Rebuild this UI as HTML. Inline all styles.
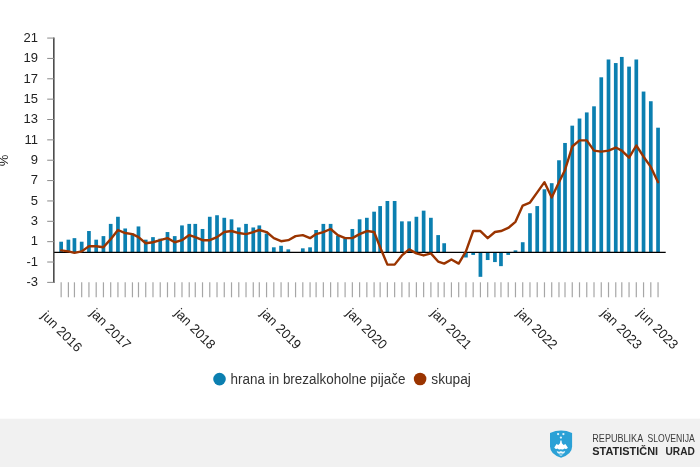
<!DOCTYPE html>
<html lang="sl"><head><meta charset="utf-8"><title>Cene hrane</title>
<style>html,body{margin:0;padding:0;background:#fff;width:700px;height:467px;overflow:hidden}body{position:relative;font-family:"Liberation Sans",Arial,sans-serif}</style></head>
<body>
<svg width="700" height="467" viewBox="0 0 700 467" style="position:absolute;left:0;top:0">
<rect x="0" y="418.7" width="700" height="48.3" fill="#f1f1f1"/>
<g fill="#0b7fb0">
<rect x="59.30" y="241.71" width="3.70" height="10.69"/>
<rect x="66.55" y="239.68" width="3.70" height="12.72"/>
<rect x="72.59" y="238.15" width="3.70" height="14.25"/>
<rect x="79.84" y="241.71" width="3.70" height="10.69"/>
<rect x="87.09" y="231.02" width="3.70" height="21.38"/>
<rect x="94.34" y="239.68" width="3.70" height="12.72"/>
<rect x="101.59" y="236.11" width="3.70" height="16.29"/>
<rect x="108.84" y="223.90" width="3.70" height="28.50"/>
<rect x="116.09" y="216.77" width="3.70" height="35.63"/>
<rect x="123.34" y="228.48" width="3.70" height="23.92"/>
<rect x="130.59" y="233.57" width="3.70" height="18.83"/>
<rect x="136.63" y="226.44" width="3.70" height="25.96"/>
<rect x="143.88" y="239.68" width="3.70" height="12.72"/>
<rect x="151.13" y="237.13" width="3.70" height="15.27"/>
<rect x="158.38" y="238.66" width="3.70" height="13.74"/>
<rect x="165.63" y="232.04" width="3.70" height="20.36"/>
<rect x="172.88" y="236.11" width="3.70" height="16.29"/>
<rect x="180.13" y="225.42" width="3.70" height="26.98"/>
<rect x="187.38" y="223.90" width="3.70" height="28.50"/>
<rect x="193.42" y="223.90" width="3.70" height="28.50"/>
<rect x="200.67" y="228.99" width="3.70" height="23.41"/>
<rect x="207.92" y="216.77" width="3.70" height="35.63"/>
<rect x="215.17" y="215.24" width="3.70" height="37.16"/>
<rect x="222.42" y="217.79" width="3.70" height="34.61"/>
<rect x="229.67" y="219.31" width="3.70" height="33.09"/>
<rect x="236.92" y="227.46" width="3.70" height="24.94"/>
<rect x="244.17" y="223.90" width="3.70" height="28.50"/>
<rect x="251.42" y="227.46" width="3.70" height="24.94"/>
<rect x="257.46" y="225.42" width="3.70" height="26.98"/>
<rect x="264.71" y="233.57" width="3.70" height="18.83"/>
<rect x="271.96" y="247.31" width="3.70" height="5.09"/>
<rect x="279.21" y="245.78" width="3.70" height="6.62"/>
<rect x="286.46" y="249.35" width="3.70" height="3.05"/>
<rect x="300.96" y="248.33" width="3.70" height="4.07"/>
<rect x="308.21" y="247.31" width="3.70" height="5.09"/>
<rect x="314.25" y="230.00" width="3.70" height="22.40"/>
<rect x="321.50" y="223.90" width="3.70" height="28.50"/>
<rect x="328.75" y="223.90" width="3.70" height="28.50"/>
<rect x="336.00" y="235.60" width="3.70" height="16.80"/>
<rect x="343.25" y="238.66" width="3.70" height="13.74"/>
<rect x="350.50" y="228.99" width="3.70" height="23.41"/>
<rect x="357.75" y="219.31" width="3.70" height="33.09"/>
<rect x="365.00" y="217.79" width="3.70" height="34.61"/>
<rect x="372.25" y="211.68" width="3.70" height="40.72"/>
<rect x="378.29" y="206.08" width="3.70" height="46.32"/>
<rect x="385.54" y="200.99" width="3.70" height="51.41"/>
<rect x="392.79" y="200.99" width="3.70" height="51.41"/>
<rect x="400.04" y="221.35" width="3.70" height="31.05"/>
<rect x="407.29" y="221.35" width="3.70" height="31.05"/>
<rect x="414.54" y="216.77" width="3.70" height="35.63"/>
<rect x="421.79" y="210.66" width="3.70" height="41.74"/>
<rect x="429.04" y="217.79" width="3.70" height="34.61"/>
<rect x="436.29" y="235.09" width="3.70" height="17.31"/>
<rect x="442.33" y="243.24" width="3.70" height="9.16"/>
<rect x="464.08" y="252.40" width="3.70" height="5.09"/>
<rect x="471.33" y="252.40" width="3.70" height="2.54"/>
<rect x="478.58" y="252.40" width="3.70" height="24.43"/>
<rect x="485.83" y="252.40" width="3.70" height="7.63"/>
<rect x="493.08" y="252.40" width="3.70" height="9.67"/>
<rect x="499.12" y="252.40" width="3.70" height="13.74"/>
<rect x="506.37" y="252.40" width="3.70" height="2.54"/>
<rect x="513.62" y="250.36" width="3.70" height="2.04"/>
<rect x="520.87" y="242.22" width="3.70" height="10.18"/>
<rect x="528.12" y="213.21" width="3.70" height="39.19"/>
<rect x="535.37" y="206.08" width="3.70" height="46.32"/>
<rect x="542.62" y="189.28" width="3.70" height="63.12"/>
<rect x="549.87" y="183.18" width="3.70" height="69.22"/>
<rect x="557.12" y="160.27" width="3.70" height="92.13"/>
<rect x="563.16" y="142.97" width="3.70" height="109.44"/>
<rect x="570.41" y="125.66" width="3.70" height="126.74"/>
<rect x="577.66" y="118.53" width="3.70" height="133.87"/>
<rect x="584.91" y="112.42" width="3.70" height="139.98"/>
<rect x="592.16" y="106.32" width="3.70" height="146.08"/>
<rect x="599.41" y="77.30" width="3.70" height="175.10"/>
<rect x="606.66" y="59.49" width="3.70" height="192.91"/>
<rect x="613.91" y="63.05" width="3.70" height="189.35"/>
<rect x="619.95" y="56.94" width="3.70" height="195.46"/>
<rect x="627.20" y="66.62" width="3.70" height="185.78"/>
<rect x="634.45" y="59.49" width="3.70" height="192.91"/>
<rect x="641.70" y="91.56" width="3.70" height="160.84"/>
<rect x="648.95" y="101.23" width="3.70" height="151.17"/>
<rect x="656.20" y="127.70" width="3.70" height="124.70"/>
</g>
<g stroke="#a6a6a6" stroke-width="1.2">
<line x1="61.15" y1="282.3" x2="61.15" y2="297.3"/>
<line x1="68.40" y1="282.3" x2="68.40" y2="297.3"/>
<line x1="74.44" y1="282.3" x2="74.44" y2="297.3"/>
<line x1="81.69" y1="282.3" x2="81.69" y2="297.3"/>
<line x1="88.94" y1="282.3" x2="88.94" y2="297.3"/>
<line x1="96.19" y1="282.3" x2="96.19" y2="297.3"/>
<line x1="103.44" y1="282.3" x2="103.44" y2="297.3"/>
<line x1="110.69" y1="282.3" x2="110.69" y2="297.3"/>
<line x1="117.94" y1="282.3" x2="117.94" y2="297.3"/>
<line x1="125.19" y1="282.3" x2="125.19" y2="297.3"/>
<line x1="132.44" y1="282.3" x2="132.44" y2="297.3"/>
<line x1="138.48" y1="282.3" x2="138.48" y2="297.3"/>
<line x1="145.73" y1="282.3" x2="145.73" y2="297.3"/>
<line x1="152.98" y1="282.3" x2="152.98" y2="297.3"/>
<line x1="160.23" y1="282.3" x2="160.23" y2="297.3"/>
<line x1="167.48" y1="282.3" x2="167.48" y2="297.3"/>
<line x1="174.73" y1="282.3" x2="174.73" y2="297.3"/>
<line x1="181.98" y1="282.3" x2="181.98" y2="297.3"/>
<line x1="189.23" y1="282.3" x2="189.23" y2="297.3"/>
<line x1="195.27" y1="282.3" x2="195.27" y2="297.3"/>
<line x1="202.52" y1="282.3" x2="202.52" y2="297.3"/>
<line x1="209.77" y1="282.3" x2="209.77" y2="297.3"/>
<line x1="217.02" y1="282.3" x2="217.02" y2="297.3"/>
<line x1="224.27" y1="282.3" x2="224.27" y2="297.3"/>
<line x1="231.52" y1="282.3" x2="231.52" y2="297.3"/>
<line x1="238.77" y1="282.3" x2="238.77" y2="297.3"/>
<line x1="246.02" y1="282.3" x2="246.02" y2="297.3"/>
<line x1="253.27" y1="282.3" x2="253.27" y2="297.3"/>
<line x1="259.31" y1="282.3" x2="259.31" y2="297.3"/>
<line x1="266.56" y1="282.3" x2="266.56" y2="297.3"/>
<line x1="273.81" y1="282.3" x2="273.81" y2="297.3"/>
<line x1="281.06" y1="282.3" x2="281.06" y2="297.3"/>
<line x1="288.31" y1="282.3" x2="288.31" y2="297.3"/>
<line x1="295.56" y1="282.3" x2="295.56" y2="297.3"/>
<line x1="302.81" y1="282.3" x2="302.81" y2="297.3"/>
<line x1="310.06" y1="282.3" x2="310.06" y2="297.3"/>
<line x1="316.10" y1="282.3" x2="316.10" y2="297.3"/>
<line x1="323.35" y1="282.3" x2="323.35" y2="297.3"/>
<line x1="330.60" y1="282.3" x2="330.60" y2="297.3"/>
<line x1="337.85" y1="282.3" x2="337.85" y2="297.3"/>
<line x1="345.10" y1="282.3" x2="345.10" y2="297.3"/>
<line x1="352.35" y1="282.3" x2="352.35" y2="297.3"/>
<line x1="359.60" y1="282.3" x2="359.60" y2="297.3"/>
<line x1="366.85" y1="282.3" x2="366.85" y2="297.3"/>
<line x1="374.10" y1="282.3" x2="374.10" y2="297.3"/>
<line x1="380.14" y1="282.3" x2="380.14" y2="297.3"/>
<line x1="387.39" y1="282.3" x2="387.39" y2="297.3"/>
<line x1="394.64" y1="282.3" x2="394.64" y2="297.3"/>
<line x1="401.89" y1="282.3" x2="401.89" y2="297.3"/>
<line x1="409.14" y1="282.3" x2="409.14" y2="297.3"/>
<line x1="416.39" y1="282.3" x2="416.39" y2="297.3"/>
<line x1="423.64" y1="282.3" x2="423.64" y2="297.3"/>
<line x1="430.89" y1="282.3" x2="430.89" y2="297.3"/>
<line x1="438.14" y1="282.3" x2="438.14" y2="297.3"/>
<line x1="444.18" y1="282.3" x2="444.18" y2="297.3"/>
<line x1="451.43" y1="282.3" x2="451.43" y2="297.3"/>
<line x1="458.68" y1="282.3" x2="458.68" y2="297.3"/>
<line x1="465.93" y1="282.3" x2="465.93" y2="297.3"/>
<line x1="473.18" y1="282.3" x2="473.18" y2="297.3"/>
<line x1="480.43" y1="282.3" x2="480.43" y2="297.3"/>
<line x1="487.68" y1="282.3" x2="487.68" y2="297.3"/>
<line x1="494.93" y1="282.3" x2="494.93" y2="297.3"/>
<line x1="500.97" y1="282.3" x2="500.97" y2="297.3"/>
<line x1="508.22" y1="282.3" x2="508.22" y2="297.3"/>
<line x1="515.47" y1="282.3" x2="515.47" y2="297.3"/>
<line x1="522.72" y1="282.3" x2="522.72" y2="297.3"/>
<line x1="529.97" y1="282.3" x2="529.97" y2="297.3"/>
<line x1="537.22" y1="282.3" x2="537.22" y2="297.3"/>
<line x1="544.47" y1="282.3" x2="544.47" y2="297.3"/>
<line x1="551.72" y1="282.3" x2="551.72" y2="297.3"/>
<line x1="558.97" y1="282.3" x2="558.97" y2="297.3"/>
<line x1="565.01" y1="282.3" x2="565.01" y2="297.3"/>
<line x1="572.26" y1="282.3" x2="572.26" y2="297.3"/>
<line x1="579.51" y1="282.3" x2="579.51" y2="297.3"/>
<line x1="586.76" y1="282.3" x2="586.76" y2="297.3"/>
<line x1="594.01" y1="282.3" x2="594.01" y2="297.3"/>
<line x1="601.26" y1="282.3" x2="601.26" y2="297.3"/>
<line x1="608.51" y1="282.3" x2="608.51" y2="297.3"/>
<line x1="615.76" y1="282.3" x2="615.76" y2="297.3"/>
<line x1="621.80" y1="282.3" x2="621.80" y2="297.3"/>
<line x1="629.05" y1="282.3" x2="629.05" y2="297.3"/>
<line x1="636.30" y1="282.3" x2="636.30" y2="297.3"/>
<line x1="643.55" y1="282.3" x2="643.55" y2="297.3"/>
<line x1="650.80" y1="282.3" x2="650.80" y2="297.3"/>
<line x1="658.05" y1="282.3" x2="658.05" y2="297.3"/>
</g>
<line x1="54" y1="252.4" x2="665.7" y2="252.4" stroke="#000" stroke-width="1.2"/>
<line x1="53.85" y1="37.5" x2="53.85" y2="282.9" stroke="#222" stroke-width="1.3"/>
<g stroke="#8a8a8a" stroke-width="1">
<line x1="47.2" y1="282.39" x2="54" y2="282.39"/>
<line x1="47.2" y1="262.03" x2="54" y2="262.03"/>
<line x1="47.2" y1="241.67" x2="54" y2="241.67"/>
<line x1="47.2" y1="221.31" x2="54" y2="221.31"/>
<line x1="47.2" y1="200.95" x2="54" y2="200.95"/>
<line x1="47.2" y1="180.59" x2="54" y2="180.59"/>
<line x1="47.2" y1="160.23" x2="54" y2="160.23"/>
<line x1="47.2" y1="139.87" x2="54" y2="139.87"/>
<line x1="47.2" y1="119.51" x2="54" y2="119.51"/>
<line x1="47.2" y1="99.15" x2="54" y2="99.15"/>
<line x1="47.2" y1="78.79" x2="54" y2="78.79"/>
<line x1="47.2" y1="58.43" x2="54" y2="58.43"/>
<line x1="47.2" y1="38.07" x2="54" y2="38.07"/>
</g>
<g font-family="'Liberation Sans', Arial, sans-serif" font-size="13" fill="#222" text-anchor="end">
<text x="38" y="286.14">-3</text>
<text x="38" y="265.78">-1</text>
<text x="38" y="245.42">1</text>
<text x="38" y="225.06">3</text>
<text x="38" y="204.70">5</text>
<text x="38" y="184.34">7</text>
<text x="38" y="163.98">9</text>
<text x="38" y="143.62">11</text>
<text x="38" y="123.26">13</text>
<text x="38" y="102.90">15</text>
<text x="38" y="82.54">17</text>
<text x="38" y="62.18">19</text>
<text x="38" y="41.82">21</text>
</g>
<text transform="translate(8.0,160.4) rotate(-90)" font-family="'Liberation Sans', Arial, sans-serif" font-size="13" fill="#222" text-anchor="middle">%</text>
<polyline points="61.15,250.36 68.40,251.38 74.44,252.91 81.69,251.38 88.94,246.29 96.19,246.29 103.44,247.31 110.69,239.17 117.94,230.00 125.19,233.06 132.44,234.08 138.48,237.13 145.73,243.24 152.98,242.22 160.23,240.18 167.48,238.15 174.73,242.22 181.98,240.18 189.23,235.09 195.27,237.13 202.52,240.18 209.77,240.18 217.02,237.13 224.27,232.04 231.52,231.02 238.77,233.06 246.02,234.08 253.27,232.04 259.31,230.00 266.56,232.04 273.81,238.15 281.06,241.20 288.31,240.18 295.56,236.11 302.81,235.09 310.06,238.15 316.10,234.08 323.35,232.04 330.60,228.99 337.85,235.09 345.10,238.15 352.35,238.15 359.60,234.08 366.85,231.02 374.10,232.04 380.14,247.31 387.39,264.62 394.64,264.62 401.89,255.45 409.14,249.35 416.39,253.42 423.64,255.45 430.89,253.42 438.14,261.56 444.18,263.60 451.43,259.53 458.68,263.60 465.93,251.38 473.18,231.02 480.43,231.02 487.68,238.15 494.93,232.04 500.97,231.02 508.22,227.97 515.47,221.86 522.72,205.57 529.97,202.52 537.22,192.34 544.47,182.16 551.72,197.43 558.97,182.16 565.01,169.94 572.26,146.53 579.51,140.42 586.76,140.42 594.01,150.60 601.26,151.62 608.51,150.60 615.76,147.55 621.80,150.60 629.05,157.73 636.30,145.51 643.55,156.71 650.80,166.89 658.05,182.16" fill="none" stroke="#9a3400" stroke-width="2.4" stroke-linejoin="round" stroke-linecap="round"/>
<g font-family="'Liberation Sans', Arial, sans-serif" font-size="13" fill="#222" text-anchor="middle">
<text transform="translate(61.95,331.40) rotate(45)" y="4.6" font-size="13.3">jun 2016</text>
<text transform="translate(110.69,328.80) rotate(45)" y="4.6" font-size="13.3">jan 2017</text>
<text transform="translate(195.27,328.80) rotate(45)" y="4.6" font-size="13.3">jan 2018</text>
<text transform="translate(281.06,328.80) rotate(45)" y="4.6" font-size="13.3">jan 2019</text>
<text transform="translate(366.85,328.80) rotate(45)" y="4.6" font-size="13.3">jan 2020</text>
<text transform="translate(451.43,328.80) rotate(45)" y="4.6" font-size="13.3">jan 2021</text>
<text transform="translate(537.22,328.80) rotate(45)" y="4.6" font-size="13.3">jan 2022</text>
<text transform="translate(621.80,328.80) rotate(45)" y="4.6" font-size="13.3">jan 2023</text>
<text transform="translate(658.05,328.80) rotate(45)" y="4.6" font-size="13.3">jun 2023</text>
</g>
<circle cx="219.5" cy="379.1" r="6.3" fill="#0b7fb0"/>
<circle cx="420.1" cy="379" r="6.3" fill="#9a3400"/>
<g font-family="'Liberation Sans', Arial, sans-serif" font-size="14" fill="#333">
<text x="230.6" y="383.5" textLength="174.8" lengthAdjust="spacingAndGlyphs">hrana in brezalkoholne pijače</text>
<text x="431.3" y="383.5" textLength="39.6" lengthAdjust="spacingAndGlyphs">skupaj</text>
</g>
<g>
<path d="M550 432.9 Q561.05 428.3 572.1 432.9 L572.1 446.4 Q572.1 454 561.05 457.7 Q550 454 550 446.4 Z" fill="#2ba1d6"/>
<path d="M554.2 447.7 L556.5 443.9 L558.3 445 L560 443.3 L560.4 440.6 L561.5 440.6 L561.9 443.3 L563.6 445 L565.4 443.9 L567.9 447.7 Q566.1 449.7 564.4 448.5 Q562.7 450.2 560.95 448.9 Q559.2 450.2 557.5 448.5 Q555.9 449.7 554.4 447.7 Z" fill="#fff"/>
<path d="M556.6 450.8 Q558.9 452.5 560.95 451.1 Q563 452.5 565.3 450.8 L564.4 453 Q562.7 454.4 560.95 453.3 Q559.2 454.4 557.5 453 Z" fill="#fff" opacity="0.9"/>
<path d="M558.8 454 Q559.9 454.9 560.95 454.2 Q562 454.9 563.1 454 L562.3 455.3 Q561.6 456 560.95 455.4 Q560.3 456 559.6 455.3 Z" fill="#fff" opacity="0.7"/>
<circle cx="558.1" cy="434.1" r="1.15" fill="#e4f3fa"/><circle cx="563.4" cy="434.1" r="1.15" fill="#e4f3fa"/><circle cx="560.9" cy="437.6" r="1.15" fill="#e4f3fa"/>
</g>
<g font-family="'Liberation Sans', Arial, sans-serif" font-size="11" fill="#3c3c3c" lengthAdjust="spacingAndGlyphs"><text x="592.3" y="442.1" textLength="50.9" lengthAdjust="spacingAndGlyphs">REPUBLIKA</text><text x="647.4" y="442.1" textLength="47.4" lengthAdjust="spacingAndGlyphs">SLOVENIJA</text></g>
<g font-family="'Liberation Sans', Arial, sans-serif" font-size="10" font-weight="bold" fill="#262626"><text x="592.3" y="454.5" textLength="65.8" lengthAdjust="spacingAndGlyphs">STATISTIČNI</text><text x="665.5" y="454.5" textLength="29.3" lengthAdjust="spacingAndGlyphs">URAD</text></g>
</svg>
</body></html>
